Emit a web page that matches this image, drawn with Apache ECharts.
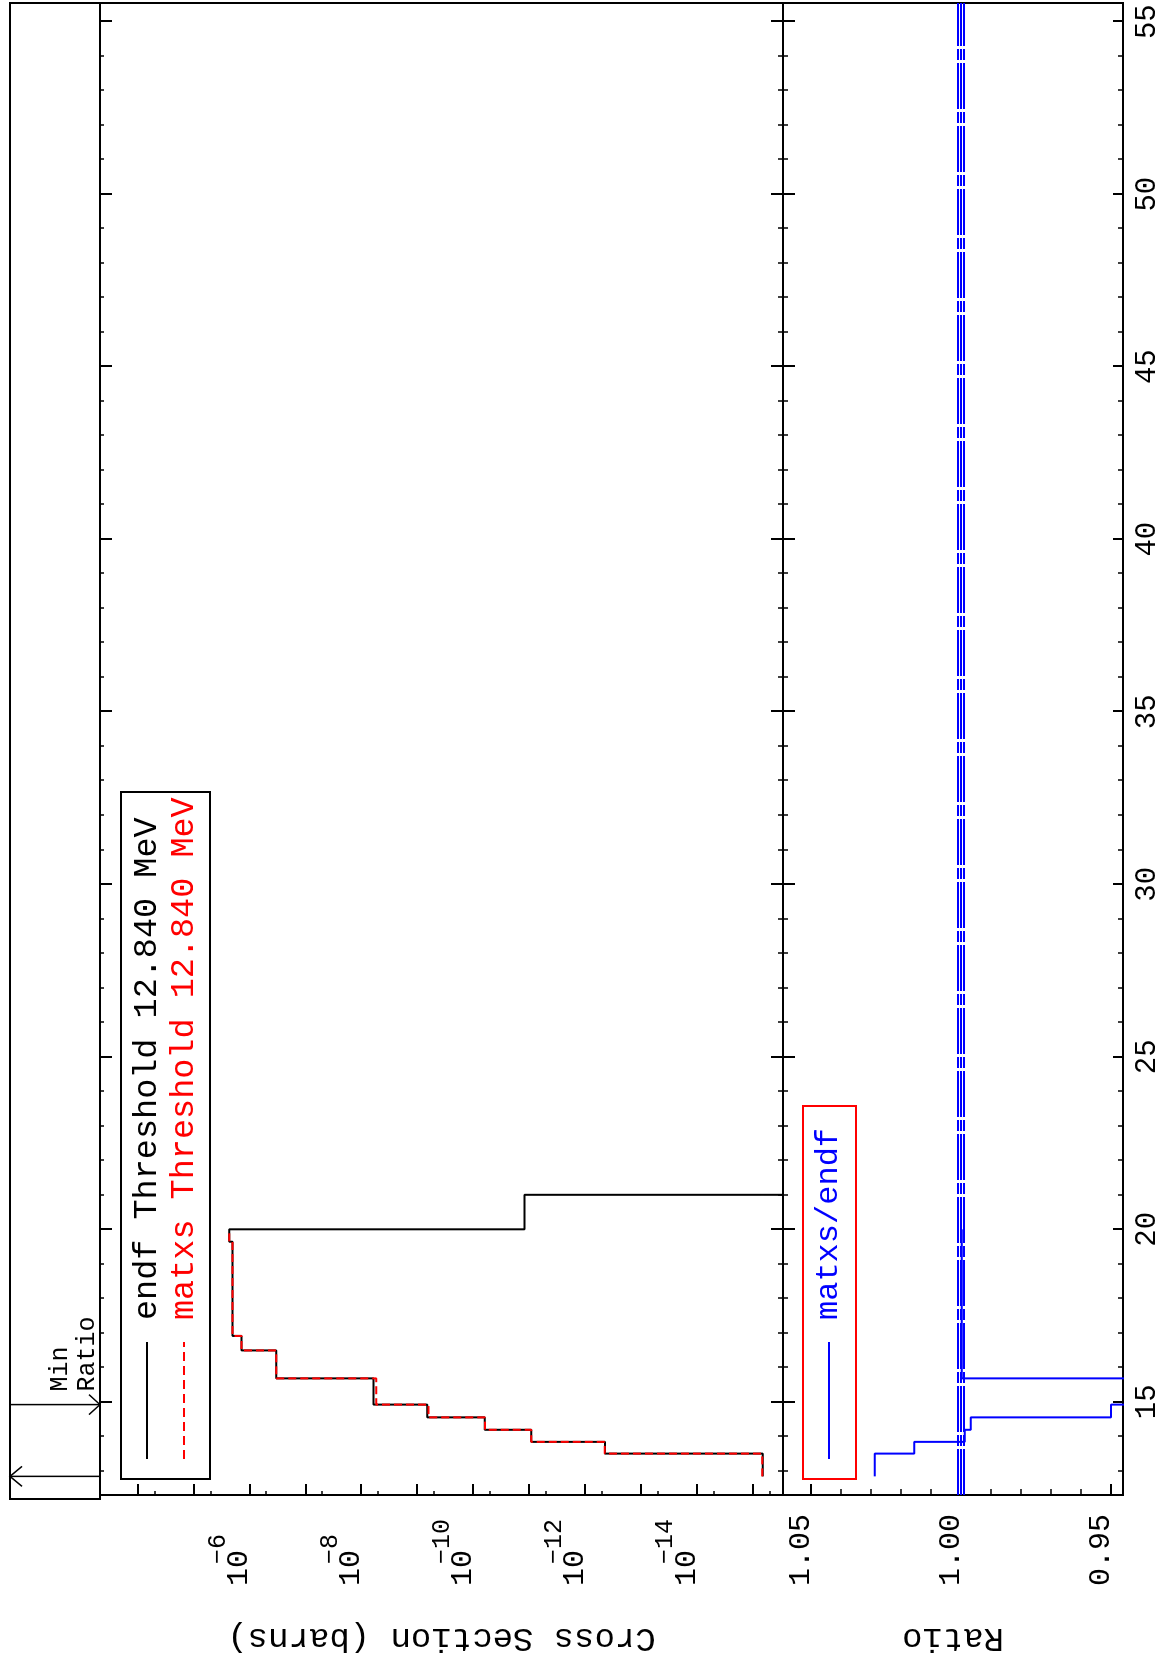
<!DOCTYPE html>
<html>
<head>
<meta charset="utf-8">
<script src="https://cdn.jsdelivr.net/npm/echarts@6/dist/echarts.min.js"></script>
<style>
html,body{margin:0;padding:0;background:#fff;overflow:hidden;width:1166px;height:1663px;}
#rot{position:absolute;left:0;top:0;width:1663px;height:1166px;transform-origin:0 0;transform:translate(0px,1663px) rotate(-90deg);}
#main{width:1663px;height:1166px;background:#fff;}
</style>
</head>
<body>
<div id="rot"><div id="main"></div></div>
<script>
// ---- data ----
const endfEnergy = [12.84, 13.50, 13.84, 14.19, 14.55, 14.92, 15.68, 16.49, 16.91, 19.64, 20.00, 21.00];
// last value is far below the axis range: the curve drops out of the plot at 21 MeV
const endfXS = [6.6e-16, 4.37e-13, 9.1e-12, 6.17e-11, 6.6e-10, 6.03e-9, 3.31e-7, 1.38e-6, 2.0e-6, 2.29e-6, 1.2e-11, 1e-20];
const matxsEnergy = [12.84, 13.50, 13.84, 14.19, 14.55, 14.92, 15.68, 16.49, 16.91, 19.64, 20.00];
const matxsXS = [6.79e-16, 4.44e-13, 9.09e-12, 6.15e-11, 6.27e-10, 5.37e-9, 3.31e-7, 1.38e-6, 2.0e-6, 2.29e-6, 2.29e-6];
const ratioEnergy = [12.84, 13.50, 13.84, 14.19, 14.55, 14.92, 15.68, 16.49, 16.91, 19.64, 20.00];
const ratioValues = [1.0287, 1.0156, 0.9987, 0.9967, 0.950, 0.890, 0.9997, 0.9997, 0.9997, 0.9997, 0.9997];
const ratioRefLines = [1.001, 1.000, 0.999];
const thresholdEnergy = 12.84;
const minRatioEnergy = 14.92;

const energyMajorTicks = [15, 20, 25, 30, 35, 40, 45, 50, 55];
const energyMinorTicks = [13,14,15,16,17,18,19,20,21,22,23,24,25,26,27,28,29,30,31,32,33,34,35,36,37,38,39,40,41,42,43,44,45,46,47,48,49,50,51,52,53,54,55];
const xsMajorTicks = [1e-4, 1e-5, 1e-6, 1e-7, 1e-8, 1e-9, 1e-10, 1e-11, 1e-12, 1e-13, 1e-14, 1e-15];
const xsMinorTicks = [5e-5, 5e-6, 5e-7, 5e-8, 5e-9, 5e-10, 5e-11, 5e-12, 5e-13, 5e-14, 5e-15, 5e-16];
const xsLabelTicks = [1e-6, 1e-8, 1e-10, 1e-12, 1e-14];
const ratioMajorTicks = [0.95, 1.00, 1.05];
const ratioMinorTicks = [0.95, 0.96, 0.97, 0.98, 0.99, 1.00, 1.01, 1.02, 1.03, 1.04, 1.05];

const energyRange = [12.30, 55.54];
const xsRange = [2.88e-16, 4.68e-4];
const ratioRange = [0.946, 1.0593];

const legendTop = ['endf Threshold 12.840 MeV', 'matxs Threshold 12.840 MeV'];
const legendRatio = 'matxs/endf';
const FONT = 'Liberation Mono';

// ---- chart ----
const chart = echarts.init(document.getElementById('main'), null, {renderer: 'canvas'});

function zip(a, b) { return a.map((v, i) => [v, b[i]]); }

function xAx(grid, pos, ticks, len, width, showLine) {
  return {
    type: 'value', gridIndex: grid, position: pos,
    min: energyRange[0], max: energyRange[1],
    axisLine: {show: showLine, onZero: false, lineStyle: {color: '#000', width: 2}},
    axisTick: {show: true, inside: true, length: len, customValues: ticks, lineStyle: {color: '#000', width: width}},
    axisLabel: {show: false},
    splitLine: {show: false}
  };
}

const xAxes = [
  xAx(0, 'bottom', energyMajorTicks, 12, 2, true),
  xAx(0, 'bottom', energyMinorTicks, 5, 1.5, false),
  xAx(0, 'top', energyMajorTicks, 12, 2, true),
  xAx(0, 'top', energyMinorTicks, 4, 1.5, false),
  xAx(1, 'bottom', energyMajorTicks, 10, 2, true),
  xAx(1, 'bottom', energyMinorTicks, 5, 1.5, false),
  xAx(1, 'top', energyMajorTicks, 12, 2, true),
  xAx(1, 'top', energyMinorTicks, 5, 1.5, false)
];
xAxes[4].axisLabel = {
  show: true, customValues: energyMajorTicks, margin: 10,
  fontFamily: FONT, fontSize: 29, color: '#000',
  formatter: v => String(Math.round(v))
};

const yAxes = [
  {
    type: 'log', logBase: 10, gridIndex: 0, position: 'left',
    min: xsRange[0], max: xsRange[1],
    axisLine: {show: true, onZero: false, lineStyle: {color: '#000', width: 2}},
    axisTick: {show: true, inside: true, length: 11, customValues: xsMajorTicks, lineStyle: {color: '#000', width: 2}},
    axisLabel: {
      show: true, customValues: xsLabelTicks, align: 'left', margin: 91, verticalAlign: 'bottom',
      lineHeight: 20, fontFamily: FONT, fontSize: 30, color: '#000',
      formatter: () => '10'
    },
    splitLine: {show: false},
    name: 'Cross Section (barns)', nameLocation: 'middle', nameGap: 126,
    nameTextStyle: {fontFamily: FONT, fontSize: 34, color: '#000'}
  },
  {
    type: 'log', logBase: 10, gridIndex: 0, position: 'left',
    min: xsRange[0], max: xsRange[1],
    axisLine: {show: false},
    axisTick: {show: true, inside: true, length: 4, customValues: xsMinorTicks, lineStyle: {color: '#000', width: 1.5}},
    axisLabel: {show: false, customValues: xsMinorTicks},
    splitLine: {show: false}
  },
  {
    type: 'value', gridIndex: 1, position: 'left',
    min: ratioRange[0], max: ratioRange[1],
    axisLine: {show: true, onZero: false, lineStyle: {color: '#000', width: 2}},
    axisTick: {show: true, inside: true, length: 11, customValues: ratioMajorTicks, lineStyle: {color: '#000', width: 2}},
    axisLabel: {
      show: true, customValues: ratioMajorTicks, align: 'left', margin: 91, verticalAlign: 'bottom',
      lineHeight: 20, fontFamily: FONT, fontSize: 30, color: '#000',
      formatter: v => v.toFixed(2)
    },
    splitLine: {show: false},
    name: 'Ratio', nameLocation: 'middle', nameGap: 126,
    nameTextStyle: {fontFamily: FONT, fontSize: 34, color: '#000'}
  },
  {
    type: 'value', gridIndex: 1, position: 'left',
    min: ratioRange[0], max: ratioRange[1],
    axisLine: {show: false},
    axisTick: {show: true, inside: true, length: 6, customValues: ratioMinorTicks, lineStyle: {color: '#000', width: 1.5}},
    axisLabel: {show: false},
    splitLine: {show: false}
  },
  {
    // exponent (superscript) part of the cross-section tick labels
    type: 'log', logBase: 10, gridIndex: 0, position: 'left',
    min: xsRange[0], max: xsRange[1],
    axisLine: {show: false},
    axisTick: {show: false, customValues: xsLabelTicks},
    axisLabel: {
      show: true, customValues: xsLabelTicks, align: 'left', margin: 69, verticalAlign: 'bottom',
      lineHeight: 62, fontFamily: FONT, fontSize: 25, color: '#000',
      formatter: v => '\u2212' + Math.round(-Math.log10(v))
    },
    splitLine: {show: false}
  }
];

const refSeries = ratioRefLines.map((v, i) => ({
  name: 'ref' + i, type: 'line', xAxisIndex: 4, yAxisIndex: 2,
  data: [[energyRange[0], v], [energyRange[1], v]],
  symbol: 'none', clip: true, z: 3, silent: true,
  lineStyle: {color: '#0000ff', width: 2, type: [46, 3, 11, 3]},
  emphasis: {disabled: true}
}));

const option = {
  animation: false,
  backgroundColor: '#fff',
  grid: [
    {left: 164, right: 3, top: 100, height: 683, show: true, borderColor: '#000', borderWidth: 2, backgroundColor: 'transparent'},
    {left: 164, right: 3, top: 783, height: 340, show: true, borderColor: '#000', borderWidth: 2, backgroundColor: 'transparent'}
  ],
  xAxis: xAxes,
  yAxis: yAxes,
  series: [
    {
      name: 'endf', type: 'line', xAxisIndex: 0, yAxisIndex: 0, step: 'end',
      data: zip(endfEnergy, endfXS), symbol: 'none', clip: true, z: 3,
      lineStyle: {color: '#000', width: 2}, emphasis: {disabled: true}
    },
    {
      name: 'matxs', type: 'line', xAxisIndex: 0, yAxisIndex: 0, step: 'end',
      data: zip(matxsEnergy, matxsXS), symbol: 'none', clip: true, z: 4,
      lineStyle: {color: '#ff0000', width: 2, type: [8, 4]}, emphasis: {disabled: true}
    },
    {
      name: 'matxs/endf', type: 'line', xAxisIndex: 4, yAxisIndex: 2, step: 'end',
      data: zip(ratioEnergy, ratioValues), symbol: 'none', clip: true, z: 4,
      lineStyle: {color: '#0000ff', width: 2}, emphasis: {disabled: true}
    }
  ].concat(refSeries)
};
chart.setOption(option);

// ---- annotations: legends, "Min Ratio" strip ----
const uMin = chart.convertToPixel({xAxisIndex: 0}, minRatioEnergy);
const uThr = chart.convertToPixel({xAxisIndex: 0}, thresholdEnergy);
const black = '#000', red = '#ff0000', blue = '#0000ff';
function ln(x1, y1, x2, y2, color, w, dash) {
  return {type: 'line', shape: {x1, y1, x2, y2}, style: {stroke: color, lineWidth: w, lineDash: dash || null}, silent: true};
}
function pl(points, color, w) {
  return {type: 'polyline', shape: {points}, style: {stroke: color, lineWidth: w, fill: null}, silent: true};
}
function tx(x, y, text, color, size) {
  return {type: 'text', x, y, silent: true, style: {text, fill: color, font: size + 'px "' + FONT + '"', align: 'left', verticalAlign: 'middle'}};
}
chart.setOption({
  graphic: [
    // strip above the top panel
    {type: 'rect', shape: {x: 164, y: 10, width: 1496, height: 90}, style: {stroke: black, lineWidth: 2, fill: null}, silent: true},
    ln(uMin, 10, uMin, 100, black, 1.5),
    pl([[uMin - 10, 89], [uMin, 100], [uMin + 10, 89]], black, 1.5),
    ln(uThr, 10, uThr, 100, black, 1.5),
    pl([[uThr - 10, 22], [uThr, 10], [uThr + 10, 22]], black, 1.5),
    tx(uMin + 13, 60, 'Min', black, 25),
    tx(uMin + 13, 87, 'Ratio', black, 25),
    // legend of the top panel
    {type: 'rect', shape: {x: 184, y: 121, width: 687, height: 89}, style: {stroke: black, lineWidth: 2, fill: '#fff'}, silent: true, z: 10},
    Object.assign(ln(204, 147, 321, 147, black, 2), {z: 11}),
    Object.assign(ln(204, 184, 321, 184, red, 2, [9, 5]), {z: 11}),
    Object.assign(tx(343, 147, legendTop[0], black, 33.5), {z: 11}),
    Object.assign(tx(343, 184, legendTop[1], red, 33.5), {z: 11}),
    // legend of the ratio panel
    {type: 'rect', shape: {x: 184, y: 803, width: 373, height: 53}, style: {stroke: red, lineWidth: 2, fill: '#fff'}, silent: true, z: 10},
    Object.assign(ln(204, 829, 321, 829, blue, 2), {z: 11}),
    Object.assign(tx(343, 829, legendRatio, blue, 32), {z: 11})
  ]
});
</script>
</body>
</html>
